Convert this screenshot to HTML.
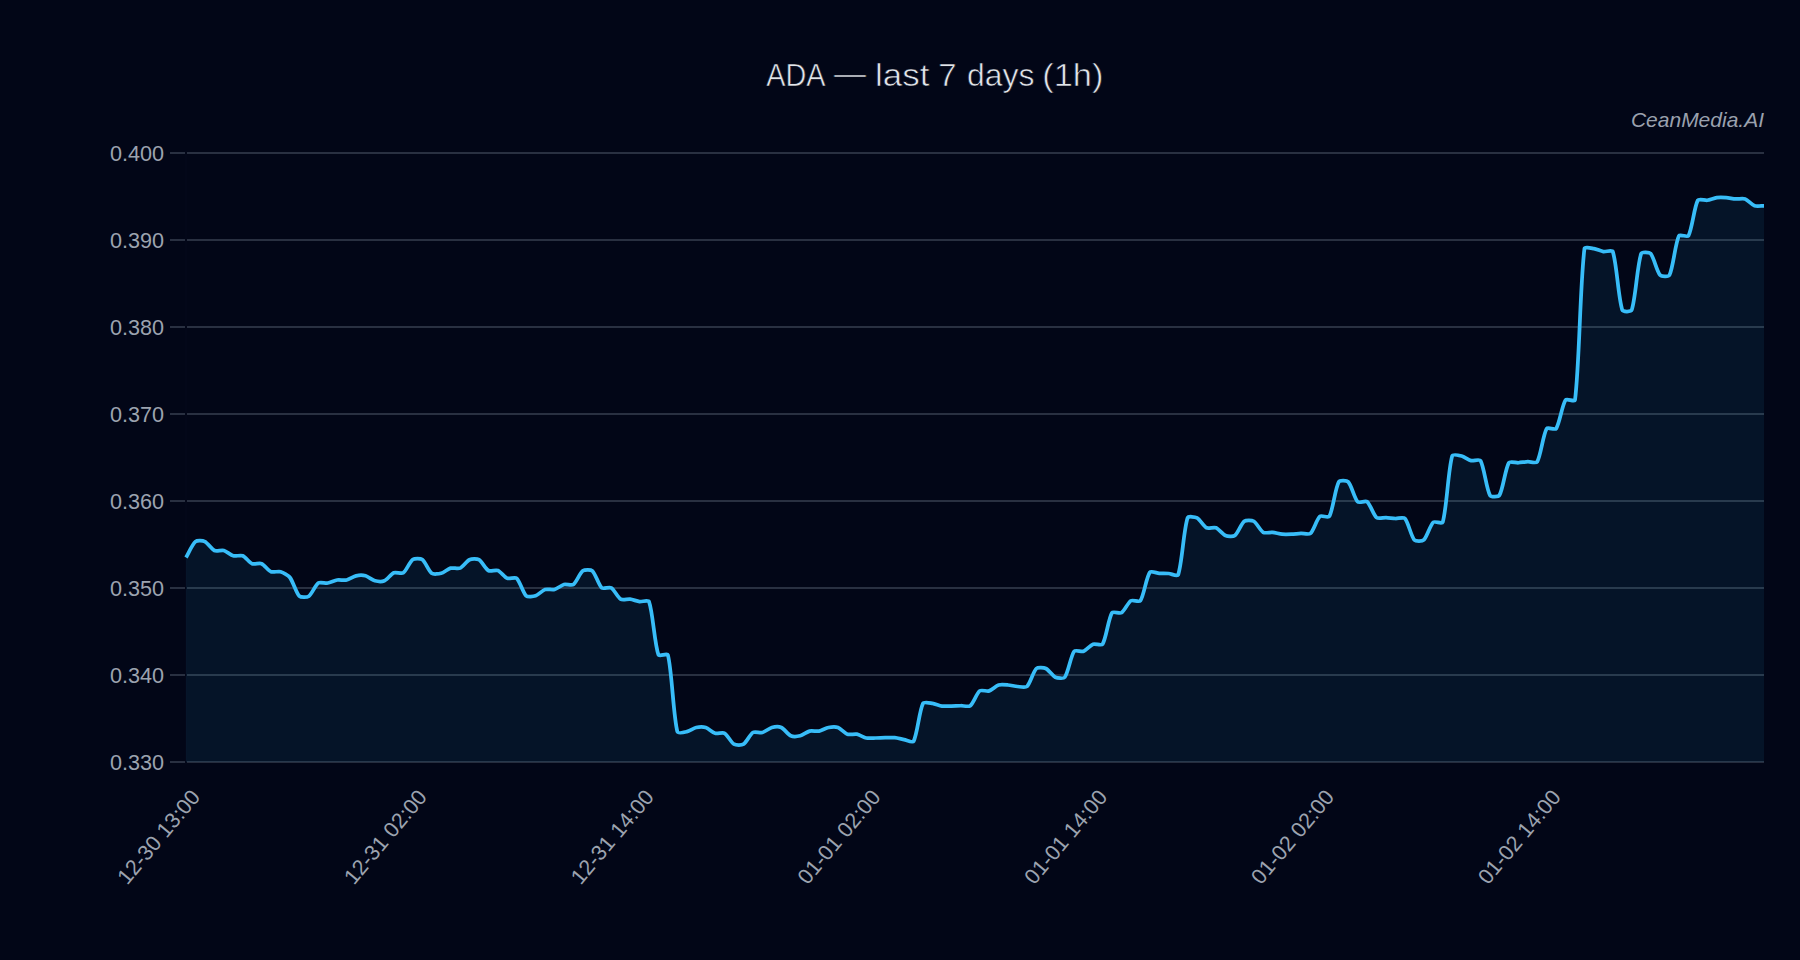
<!DOCTYPE html>
<html lang="en"><head><meta charset="utf-8"><title>ADA — last 7 days (1h)</title>
<style>
html,body{margin:0;padding:0;background:#020617;}
body{width:1800px;height:960px;overflow:hidden;position:relative;font-family:"Liberation Sans",Arial,sans-serif;}
svg{position:absolute;left:0;top:0;display:block}
text{font-family:"Liberation Sans",Arial,sans-serif}
.yt{font-size:21.6px;fill:#9ca3af;text-anchor:end}
.xt{font-size:21.6px;fill:#9ca3af;text-anchor:end}
.title{font-size:31.5px;fill:#e2e5ea;text-anchor:start;stroke:#020617;stroke-width:0.6px}
.wm{font-size:21px;fill:#9aa1ae;text-anchor:end;font-style:italic}
</style></head><body>
<svg width="1800" height="960" viewBox="0 0 1800 960">
<rect width="1800" height="960" fill="#020617"/>
<rect x="170" y="152" width="1594" height="2" fill="#293041"/>
<rect x="170" y="239" width="1594" height="2" fill="#293041"/>
<rect x="170" y="326" width="1594" height="2" fill="#293041"/>
<rect x="170" y="413" width="1594" height="2" fill="#293041"/>
<rect x="170" y="500" width="1594" height="2" fill="#293041"/>
<rect x="170" y="587" width="1594" height="2" fill="#293041"/>
<rect x="170" y="674" width="1594" height="2" fill="#293041"/>
<rect x="170" y="761" width="16" height="2" fill="#293041"/>
<rect x="186" y="761" width="1578" height="2" fill="#262d3e"/>
<rect x="185" y="151" width="2" height="613" fill="#030719"/>
<path d="M186 557.5C188.36 553.52 192.32 544.23 195.45 541.6C197.05 540.26 202.91 540.66 204.9 541.6C207.63 542.89 211.61 549.21 214.35 550.5C216.34 551.44 221.6 549.88 223.8 550.5C226.32 551.21 230.72 555.09 233.25 555.8C235.45 556.42 240.64 554.94 242.69 555.8C245.37 556.92 249.47 562.58 252.14 563.7C254.19 564.56 259.55 562.83 261.59 563.7C264.27 564.83 268.36 570.57 271.04 571.7C273.09 572.57 278.32 571.03 280.49 571.7C283.04 572.48 288.31 575.38 289.94 577.5C293.03 581.51 296.13 592.98 299.39 596.2C300.86 597.65 307.1 597.41 308.84 596.2C311.82 594.11 315.3 585.09 318.29 583C320.03 581.79 325.43 583.37 327.74 583C330.16 582.62 334.77 580.38 337.19 580C339.49 579.63 344.38 580.5 346.63 580C349.1 579.45 353.62 576.35 356.08 575.8C358.34 575.3 363.32 575.21 365.53 575.8C368.04 576.46 372.47 580.14 374.98 580.8C377.2 581.39 382.39 581.67 384.43 580.8C387.11 579.67 391.2 573.93 393.88 572.8C395.93 571.93 401.6 574.02 403.33 572.8C406.32 570.69 409.79 561.61 412.78 559.5C414.51 558.28 420.52 558.25 422.23 559.5C425.25 561.7 428.66 571.1 431.68 573.3C433.38 574.55 438.92 573.9 441.13 573.3C443.64 572.61 448.06 568.84 450.57 568.15C452.78 567.55 458.01 569.05 460.02 568.15C462.73 566.94 466.77 560.91 469.47 559.7C471.49 558.8 477.05 558.63 478.92 559.7C481.77 561.33 485.52 568.87 488.37 570.5C490.25 571.57 495.76 569.65 497.82 570.5C500.49 571.6 504.6 577.2 507.27 578.3C509.33 579.15 515.2 576.89 516.72 578.3C519.92 581.27 522.96 592.83 526.17 595.8C527.69 597.21 533.47 596.52 535.62 595.8C538.2 594.94 542.49 590.36 545.07 589.5C547.21 588.78 552.3 590.09 554.51 589.5C557.02 588.84 561.46 585.16 563.96 584.5C566.18 583.91 571.7 585.74 573.41 584.5C576.43 582.32 579.85 572.98 582.86 570.8C584.57 569.56 590.77 569.41 592.31 570.8C595.5 573.68 598.58 585.02 601.76 587.9C603.3 589.29 609.36 586.8 611.21 587.9C614.09 589.62 617.78 597.48 620.66 599.2C622.51 600.3 627.78 598.9 630.11 599.2C632.51 599.5 637.16 601.3 639.56 601.6C641.88 601.9 648.3 599.62 649.01 601.6C653.03 612.94 654.43 643.56 658.46 654.9C659.16 656.88 667.39 652.81 667.9 654.9C672.11 672 673.14 714.55 677.35 731.65C677.87 733.74 684.54 732.15 686.8 731.65C689.27 731.11 693.79 728.04 696.25 727.5C698.51 727 703.53 726.83 705.7 727.5C708.25 728.28 712.6 732.52 715.15 733.3C717.32 733.97 722.73 732.22 724.6 733.3C727.45 734.95 731.19 742.55 734.05 744.2C735.92 745.28 741.67 745.33 743.5 744.2C746.4 742.4 750.04 734.3 752.95 732.5C754.77 731.37 760.18 733.09 762.4 732.5C764.9 731.84 769.34 728.16 771.84 727.5C774.06 726.91 779.27 726.61 781.29 727.5C783.99 728.68 788.04 734.62 790.74 735.8C792.77 736.69 797.96 736.36 800.19 735.8C802.68 735.18 807.15 731.72 809.64 731.1C811.87 730.54 816.81 731.53 819.09 731.1C821.53 730.63 826.1 727.97 828.54 727.5C830.82 727.07 835.87 726.75 837.99 727.5C840.59 728.42 844.84 733.28 847.44 734.2C849.56 734.95 854.61 733.74 856.89 734.2C859.34 734.69 863.88 737.51 866.34 738C868.61 738.46 873.42 738.04 875.78 738C878.15 737.96 882.87 737.74 885.23 737.7C887.6 737.66 892.34 737.46 894.68 737.7C897.07 737.94 901.76 739.15 904.13 739.6C906.49 740.05 912.65 743.09 913.58 741.3C917.37 734.02 919.22 710.99 923.03 703.35C923.95 701.5 930.16 703.02 932.48 703.35C934.89 703.69 939.52 705.71 941.93 706.05C944.24 706.38 949.02 706.09 951.38 706.05C953.74 706.01 958.46 705.79 960.83 705.75C963.19 705.71 968.63 707.05 970.28 705.75C973.35 703.33 976.65 693.32 979.72 690.9C981.37 689.6 987.01 691.58 989.17 690.9C991.73 690.1 996.07 685.8 998.62 685C1000.79 684.32 1005.72 684.81 1008.07 685C1010.45 685.19 1015.14 686.31 1017.52 686.5C1019.87 686.69 1025.47 687.93 1026.97 686.5C1030.2 683.43 1033.19 671.57 1036.42 668.5C1037.92 667.07 1043.87 667.57 1045.87 668.5C1048.59 669.76 1052.59 675.99 1055.32 677.25C1057.32 678.18 1063.56 678.9 1064.77 677.25C1068.29 672.4 1070.69 656.1 1074.22 651.25C1075.42 649.6 1081.56 652.03 1083.66 651.25C1086.29 650.27 1090.49 645.18 1093.11 644.2C1095.22 643.42 1101.51 645.96 1102.56 644.2C1106.23 638.09 1108.34 618.86 1112.01 612.75C1113.07 610.99 1119.66 613.9 1121.46 612.75C1124.38 610.9 1127.99 602.6 1130.91 600.75C1132.72 599.6 1139.22 602.45 1140.36 600.75C1143.95 595.37 1146.22 577.61 1149.81 572.4C1150.95 570.75 1156.89 573.16 1159.26 573.3C1161.61 573.44 1166.36 573.31 1168.71 573.5C1171.08 573.69 1177.49 576.77 1178.16 574.8C1182.21 562.87 1183.55 530.12 1187.6 517.9C1188.27 515.9 1195.12 516.89 1197.05 517.9C1199.85 519.36 1203.71 526.29 1206.5 527.75C1208.44 528.76 1213.89 526.91 1215.95 527.75C1218.62 528.84 1222.74 534.41 1225.4 535.5C1227.46 536.34 1233.17 536.77 1234.85 535.5C1237.89 533.21 1241.26 523.54 1244.3 521.25C1245.98 519.98 1251.89 520.16 1253.75 521.25C1256.61 522.93 1260.33 530.67 1263.2 532.35C1265.06 533.44 1270.31 532.12 1272.65 532.35C1275.03 532.58 1279.71 533.97 1282.1 534.2C1284.44 534.43 1289.19 534.3 1291.54 534.2C1293.91 534.1 1298.63 533.5 1300.99 533.4C1303.35 533.3 1308.9 534.79 1310.44 533.4C1313.62 530.54 1316.71 519.26 1319.89 516.4C1321.44 515.01 1328.36 518.2 1329.34 516.4C1333.08 509.57 1335.05 488.68 1338.79 481.85C1339.78 480.05 1346.82 480.36 1348.24 481.85C1351.55 485.33 1354.38 498.27 1357.69 501.75C1359.11 503.24 1365.54 500.41 1367.14 501.75C1370.26 504.37 1373.46 514.98 1376.59 517.6C1378.19 518.94 1383.68 517.49 1386.04 517.6C1388.4 517.71 1393.12 518.39 1395.49 518.5C1397.84 518.61 1403.58 516.96 1404.93 518.5C1408.3 522.32 1411.02 536.13 1414.38 539.95C1415.74 541.49 1422.32 541.37 1423.83 539.95C1427.04 536.94 1430.07 525.26 1433.28 522.25C1434.79 520.83 1442.15 524.3 1442.73 522.25C1446.87 507.74 1448.04 470.51 1452.18 456C1452.76 453.95 1459.39 455.45 1461.63 456C1464.12 456.61 1468.59 460.04 1471.08 460.65C1473.31 461.2 1479.54 458.85 1480.53 460.65C1484.27 467.51 1486.24 488.44 1489.98 495.3C1490.96 497.1 1498.4 497.07 1499.43 495.3C1503.12 488.94 1505.18 469.11 1508.87 462.75C1509.9 460.98 1515.97 462.88 1518.32 462.75C1520.69 462.62 1525.4 461.83 1527.77 461.7C1530.13 461.57 1536.2 463.48 1537.22 461.7C1540.93 455.21 1542.96 435.09 1546.67 428.6C1547.69 426.82 1554.99 430.31 1556.12 428.6C1559.72 423.16 1561.97 405.44 1565.57 400C1566.7 398.29 1574.74 402.22 1575.02 400C1579.47 364.37 1580.02 284.23 1584.47 248.6C1584.74 246.38 1591.61 248.23 1593.92 248.6C1596.34 248.98 1600.95 251.22 1603.37 251.6C1605.67 251.97 1612.16 249.59 1612.81 251.6C1616.89 264.19 1618.19 297.41 1622.26 310C1622.91 312.01 1631.04 312 1631.71 310C1635.77 297.9 1637.11 265.7 1641.16 253.6C1641.83 251.6 1649.25 252.06 1650.61 253.6C1653.98 257.41 1656.69 271.19 1660.06 275C1661.42 276.54 1668.61 276.86 1669.51 275C1673.34 267.06 1675.13 243.74 1678.96 235.8C1679.86 233.94 1687.44 237.62 1688.41 235.8C1692.17 228.73 1694.1 207.32 1697.86 200.25C1698.82 198.43 1704.99 200.57 1707.31 200.25C1709.71 199.91 1714.35 197.94 1716.75 197.6C1719.07 197.28 1723.85 197.43 1726.2 197.6C1728.58 197.77 1733.28 198.78 1735.65 198.95C1738 199.12 1742.99 198.18 1745.1 198.95C1747.71 199.9 1751.94 204.85 1754.55 205.8C1756.66 206.57 1761.64 205.8 1764 205.8L1764 762L186 762Z" fill="rgba(56,189,248,0.08)"/>
<path d="M186 557.5C188.36 553.52 192.32 544.23 195.45 541.6C197.05 540.26 202.91 540.66 204.9 541.6C207.63 542.89 211.61 549.21 214.35 550.5C216.34 551.44 221.6 549.88 223.8 550.5C226.32 551.21 230.72 555.09 233.25 555.8C235.45 556.42 240.64 554.94 242.69 555.8C245.37 556.92 249.47 562.58 252.14 563.7C254.19 564.56 259.55 562.83 261.59 563.7C264.27 564.83 268.36 570.57 271.04 571.7C273.09 572.57 278.32 571.03 280.49 571.7C283.04 572.48 288.31 575.38 289.94 577.5C293.03 581.51 296.13 592.98 299.39 596.2C300.86 597.65 307.1 597.41 308.84 596.2C311.82 594.11 315.3 585.09 318.29 583C320.03 581.79 325.43 583.37 327.74 583C330.16 582.62 334.77 580.38 337.19 580C339.49 579.63 344.38 580.5 346.63 580C349.1 579.45 353.62 576.35 356.08 575.8C358.34 575.3 363.32 575.21 365.53 575.8C368.04 576.46 372.47 580.14 374.98 580.8C377.2 581.39 382.39 581.67 384.43 580.8C387.11 579.67 391.2 573.93 393.88 572.8C395.93 571.93 401.6 574.02 403.33 572.8C406.32 570.69 409.79 561.61 412.78 559.5C414.51 558.28 420.52 558.25 422.23 559.5C425.25 561.7 428.66 571.1 431.68 573.3C433.38 574.55 438.92 573.9 441.13 573.3C443.64 572.61 448.06 568.84 450.57 568.15C452.78 567.55 458.01 569.05 460.02 568.15C462.73 566.94 466.77 560.91 469.47 559.7C471.49 558.8 477.05 558.63 478.92 559.7C481.77 561.33 485.52 568.87 488.37 570.5C490.25 571.57 495.76 569.65 497.82 570.5C500.49 571.6 504.6 577.2 507.27 578.3C509.33 579.15 515.2 576.89 516.72 578.3C519.92 581.27 522.96 592.83 526.17 595.8C527.69 597.21 533.47 596.52 535.62 595.8C538.2 594.94 542.49 590.36 545.07 589.5C547.21 588.78 552.3 590.09 554.51 589.5C557.02 588.84 561.46 585.16 563.96 584.5C566.18 583.91 571.7 585.74 573.41 584.5C576.43 582.32 579.85 572.98 582.86 570.8C584.57 569.56 590.77 569.41 592.31 570.8C595.5 573.68 598.58 585.02 601.76 587.9C603.3 589.29 609.36 586.8 611.21 587.9C614.09 589.62 617.78 597.48 620.66 599.2C622.51 600.3 627.78 598.9 630.11 599.2C632.51 599.5 637.16 601.3 639.56 601.6C641.88 601.9 648.3 599.62 649.01 601.6C653.03 612.94 654.43 643.56 658.46 654.9C659.16 656.88 667.39 652.81 667.9 654.9C672.11 672 673.14 714.55 677.35 731.65C677.87 733.74 684.54 732.15 686.8 731.65C689.27 731.11 693.79 728.04 696.25 727.5C698.51 727 703.53 726.83 705.7 727.5C708.25 728.28 712.6 732.52 715.15 733.3C717.32 733.97 722.73 732.22 724.6 733.3C727.45 734.95 731.19 742.55 734.05 744.2C735.92 745.28 741.67 745.33 743.5 744.2C746.4 742.4 750.04 734.3 752.95 732.5C754.77 731.37 760.18 733.09 762.4 732.5C764.9 731.84 769.34 728.16 771.84 727.5C774.06 726.91 779.27 726.61 781.29 727.5C783.99 728.68 788.04 734.62 790.74 735.8C792.77 736.69 797.96 736.36 800.19 735.8C802.68 735.18 807.15 731.72 809.64 731.1C811.87 730.54 816.81 731.53 819.09 731.1C821.53 730.63 826.1 727.97 828.54 727.5C830.82 727.07 835.87 726.75 837.99 727.5C840.59 728.42 844.84 733.28 847.44 734.2C849.56 734.95 854.61 733.74 856.89 734.2C859.34 734.69 863.88 737.51 866.34 738C868.61 738.46 873.42 738.04 875.78 738C878.15 737.96 882.87 737.74 885.23 737.7C887.6 737.66 892.34 737.46 894.68 737.7C897.07 737.94 901.76 739.15 904.13 739.6C906.49 740.05 912.65 743.09 913.58 741.3C917.37 734.02 919.22 710.99 923.03 703.35C923.95 701.5 930.16 703.02 932.48 703.35C934.89 703.69 939.52 705.71 941.93 706.05C944.24 706.38 949.02 706.09 951.38 706.05C953.74 706.01 958.46 705.79 960.83 705.75C963.19 705.71 968.63 707.05 970.28 705.75C973.35 703.33 976.65 693.32 979.72 690.9C981.37 689.6 987.01 691.58 989.17 690.9C991.73 690.1 996.07 685.8 998.62 685C1000.79 684.32 1005.72 684.81 1008.07 685C1010.45 685.19 1015.14 686.31 1017.52 686.5C1019.87 686.69 1025.47 687.93 1026.97 686.5C1030.2 683.43 1033.19 671.57 1036.42 668.5C1037.92 667.07 1043.87 667.57 1045.87 668.5C1048.59 669.76 1052.59 675.99 1055.32 677.25C1057.32 678.18 1063.56 678.9 1064.77 677.25C1068.29 672.4 1070.69 656.1 1074.22 651.25C1075.42 649.6 1081.56 652.03 1083.66 651.25C1086.29 650.27 1090.49 645.18 1093.11 644.2C1095.22 643.42 1101.51 645.96 1102.56 644.2C1106.23 638.09 1108.34 618.86 1112.01 612.75C1113.07 610.99 1119.66 613.9 1121.46 612.75C1124.38 610.9 1127.99 602.6 1130.91 600.75C1132.72 599.6 1139.22 602.45 1140.36 600.75C1143.95 595.37 1146.22 577.61 1149.81 572.4C1150.95 570.75 1156.89 573.16 1159.26 573.3C1161.61 573.44 1166.36 573.31 1168.71 573.5C1171.08 573.69 1177.49 576.77 1178.16 574.8C1182.21 562.87 1183.55 530.12 1187.6 517.9C1188.27 515.9 1195.12 516.89 1197.05 517.9C1199.85 519.36 1203.71 526.29 1206.5 527.75C1208.44 528.76 1213.89 526.91 1215.95 527.75C1218.62 528.84 1222.74 534.41 1225.4 535.5C1227.46 536.34 1233.17 536.77 1234.85 535.5C1237.89 533.21 1241.26 523.54 1244.3 521.25C1245.98 519.98 1251.89 520.16 1253.75 521.25C1256.61 522.93 1260.33 530.67 1263.2 532.35C1265.06 533.44 1270.31 532.12 1272.65 532.35C1275.03 532.58 1279.71 533.97 1282.1 534.2C1284.44 534.43 1289.19 534.3 1291.54 534.2C1293.91 534.1 1298.63 533.5 1300.99 533.4C1303.35 533.3 1308.9 534.79 1310.44 533.4C1313.62 530.54 1316.71 519.26 1319.89 516.4C1321.44 515.01 1328.36 518.2 1329.34 516.4C1333.08 509.57 1335.05 488.68 1338.79 481.85C1339.78 480.05 1346.82 480.36 1348.24 481.85C1351.55 485.33 1354.38 498.27 1357.69 501.75C1359.11 503.24 1365.54 500.41 1367.14 501.75C1370.26 504.37 1373.46 514.98 1376.59 517.6C1378.19 518.94 1383.68 517.49 1386.04 517.6C1388.4 517.71 1393.12 518.39 1395.49 518.5C1397.84 518.61 1403.58 516.96 1404.93 518.5C1408.3 522.32 1411.02 536.13 1414.38 539.95C1415.74 541.49 1422.32 541.37 1423.83 539.95C1427.04 536.94 1430.07 525.26 1433.28 522.25C1434.79 520.83 1442.15 524.3 1442.73 522.25C1446.87 507.74 1448.04 470.51 1452.18 456C1452.76 453.95 1459.39 455.45 1461.63 456C1464.12 456.61 1468.59 460.04 1471.08 460.65C1473.31 461.2 1479.54 458.85 1480.53 460.65C1484.27 467.51 1486.24 488.44 1489.98 495.3C1490.96 497.1 1498.4 497.07 1499.43 495.3C1503.12 488.94 1505.18 469.11 1508.87 462.75C1509.9 460.98 1515.97 462.88 1518.32 462.75C1520.69 462.62 1525.4 461.83 1527.77 461.7C1530.13 461.57 1536.2 463.48 1537.22 461.7C1540.93 455.21 1542.96 435.09 1546.67 428.6C1547.69 426.82 1554.99 430.31 1556.12 428.6C1559.72 423.16 1561.97 405.44 1565.57 400C1566.7 398.29 1574.74 402.22 1575.02 400C1579.47 364.37 1580.02 284.23 1584.47 248.6C1584.74 246.38 1591.61 248.23 1593.92 248.6C1596.34 248.98 1600.95 251.22 1603.37 251.6C1605.67 251.97 1612.16 249.59 1612.81 251.6C1616.89 264.19 1618.19 297.41 1622.26 310C1622.91 312.01 1631.04 312 1631.71 310C1635.77 297.9 1637.11 265.7 1641.16 253.6C1641.83 251.6 1649.25 252.06 1650.61 253.6C1653.98 257.41 1656.69 271.19 1660.06 275C1661.42 276.54 1668.61 276.86 1669.51 275C1673.34 267.06 1675.13 243.74 1678.96 235.8C1679.86 233.94 1687.44 237.62 1688.41 235.8C1692.17 228.73 1694.1 207.32 1697.86 200.25C1698.82 198.43 1704.99 200.57 1707.31 200.25C1709.71 199.91 1714.35 197.94 1716.75 197.6C1719.07 197.28 1723.85 197.43 1726.2 197.6C1728.58 197.77 1733.28 198.78 1735.65 198.95C1738 199.12 1742.99 198.18 1745.1 198.95C1747.71 199.9 1751.94 204.85 1754.55 205.8C1756.66 206.57 1761.64 205.8 1764 205.8" fill="none" stroke="#38bdf8" stroke-width="3.75" stroke-linejoin="round" stroke-linecap="butt"/>
<text class="title" y="86"><tspan x="766.2" dy="0" textLength="57.7" lengthAdjust="spacingAndGlyphs">ADA</tspan> <tspan x="834.1" dy="-2" textLength="32" lengthAdjust="spacingAndGlyphs">—</tspan><tspan dy="2"> </tspan><tspan x="875.1" dy="0" textLength="54.4" lengthAdjust="spacingAndGlyphs">last</tspan> <tspan x="938.3" dy="0" textLength="18.3" lengthAdjust="spacingAndGlyphs">7</tspan> <tspan x="967.1" dy="0" textLength="67.4" lengthAdjust="spacingAndGlyphs">days</tspan> <tspan x="1042.3" dy="0" textLength="61.1" lengthAdjust="spacingAndGlyphs">(1h)</tspan> </text>
<text class="wm" x="1764" y="127.3">CeanMedia.AI</text>
<text class="yt" x="164" y="160.7">0.400</text>
<text class="yt" x="164" y="247.7">0.390</text>
<text class="yt" x="164" y="334.7">0.380</text>
<text class="yt" x="164" y="421.7">0.370</text>
<text class="yt" x="164" y="508.7">0.360</text>
<text class="yt" x="164" y="595.7">0.350</text>
<text class="yt" x="164" y="682.7">0.340</text>
<text class="yt" x="164" y="769.7">0.330</text>
<text class="xt" transform="translate(201.3 797.5) rotate(-50)" x="0" y="0">12-30 13:00</text>
<text class="xt" transform="translate(428.08 797.5) rotate(-50)" x="0" y="0">12-31 02:00</text>
<text class="xt" transform="translate(654.86 797.5) rotate(-50)" x="0" y="0">12-31 14:00</text>
<text class="xt" transform="translate(881.64 797.5) rotate(-50)" x="0" y="0">01-01 02:00</text>
<text class="xt" transform="translate(1108.41 797.5) rotate(-50)" x="0" y="0">01-01 14:00</text>
<text class="xt" transform="translate(1335.19 797.5) rotate(-50)" x="0" y="0">01-02 02:00</text>
<text class="xt" transform="translate(1561.97 797.5) rotate(-50)" x="0" y="0">01-02 14:00</text>
</svg>
</body></html>
